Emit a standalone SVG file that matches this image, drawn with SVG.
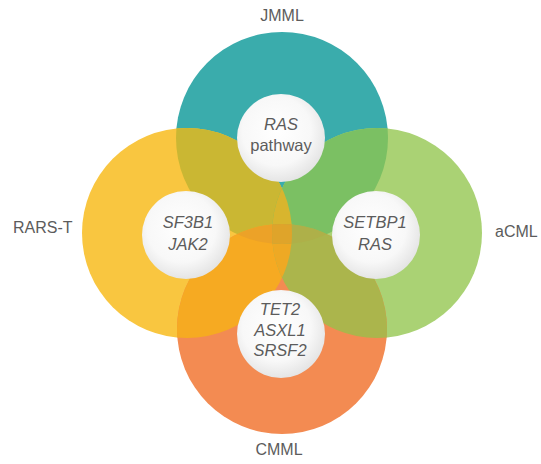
<svg xmlns="http://www.w3.org/2000/svg" width="541" height="464" viewBox="0 0 541 464">
<style>
.lbl{font-family:"Liberation Sans",Arial,sans-serif;font-size:16px;fill:#5c5c5c;text-anchor:middle}
.gene{font-family:"Liberation Sans",Arial,sans-serif;font-size:16.5px;font-style:italic;fill:#5c5c5c;text-anchor:middle}
.plain{font-style:normal}
.inner{fill:url(#wg)}
</style>
<defs>
<radialGradient id="wg" cx="0.45" cy="0.42" r="0.6">
<stop offset="0" stop-color="#ffffff"/>
<stop offset="0.65" stop-color="#f8f8f8"/>
<stop offset="1" stop-color="#e3e3e3"/>
</radialGradient>
<clipPath id="cT"><circle cx="282" cy="138" r="106"/></clipPath>
<clipPath id="cL"><circle cx="187" cy="233" r="105"/></clipPath>
<clipPath id="cR"><circle cx="377" cy="233" r="105"/></clipPath>
<clipPath id="cB"><circle cx="282" cy="329" r="105"/></clipPath>
</defs>
<rect width="541" height="464" fill="#ffffff"/>

<g id="node-jmml">
<circle cx="282" cy="138" r="106" fill="#3aacac"/>
<text class="lbl" x="282" y="21">JMML</text>
</g>
<g id="node-rars-t">
<circle cx="187" cy="233" r="105" fill="#f9c640"/>
<text class="lbl" x="13" y="233" style="text-anchor:start">RARS-T</text>
</g>
<g id="node-acml">
<circle cx="377" cy="233" r="105" fill="#aad274"/>
<text class="lbl" x="495" y="237" style="text-anchor:start">aCML</text>
</g>
<g id="node-cmml">
<circle cx="282" cy="329" r="105" fill="#f38b52"/>
<text class="lbl" x="279" y="455">CMML</text>
</g>

<g id="overlaps">
<g clip-path="url(#cT)"><circle cx="187" cy="233" r="105" fill="#cab733"/></g>
<g clip-path="url(#cT)"><circle cx="377" cy="233" r="105" fill="#7bc063"/></g>
<g clip-path="url(#cL)"><circle cx="282" cy="329" r="105" fill="#f6aa22"/></g>
<g clip-path="url(#cR)"><circle cx="282" cy="329" r="105" fill="#abb54c"/></g>
<g clip-path="url(#cT)"><g clip-path="url(#cL)"><circle cx="377" cy="233" r="105" fill="#d8b52e"/></g></g>
<g clip-path="url(#cB)"><g clip-path="url(#cL)"><circle cx="377" cy="233" r="105" fill="#eea924"/></g></g>
<g clip-path="url(#cT)"><g clip-path="url(#cL)"><circle cx="282" cy="329" r="105" fill="#eca228"/></g></g>
<g clip-path="url(#cT)"><g clip-path="url(#cR)"><circle cx="282" cy="329" r="105" fill="#aeb049"/></g></g>
<g clip-path="url(#cT)"><g clip-path="url(#cL)"><g clip-path="url(#cR)"><circle cx="282" cy="329" r="105" fill="#dfa42a"/></g></g></g>
</g>

<g id="inner-jmml">
<circle class="inner" cx="281" cy="138" r="44"/>
<text class="gene" x="281" y="130">RAS</text>
<text class="gene plain" x="281" y="151">pathway</text>
</g>
<g id="inner-rars-t">
<circle class="inner" cx="186" cy="235" r="44"/>
<text class="gene" x="188" y="228">SF3B1</text>
<text class="gene" x="188" y="250">JAK2</text>
</g>
<g id="inner-acml">
<circle class="inner" cx="376" cy="235" r="44"/>
<text class="gene" x="375" y="228">SETBP1</text>
<text class="gene" x="375" y="250">RAS</text>
</g>
<g id="inner-cmml">
<circle class="inner" cx="281" cy="334" r="44"/>
<text class="gene" x="280" y="315">TET2</text>
<text class="gene" x="280" y="336">ASXL1</text>
<text class="gene" x="280" y="356">SRSF2</text>
</g>
<g id="connectors"></g>
</svg>
